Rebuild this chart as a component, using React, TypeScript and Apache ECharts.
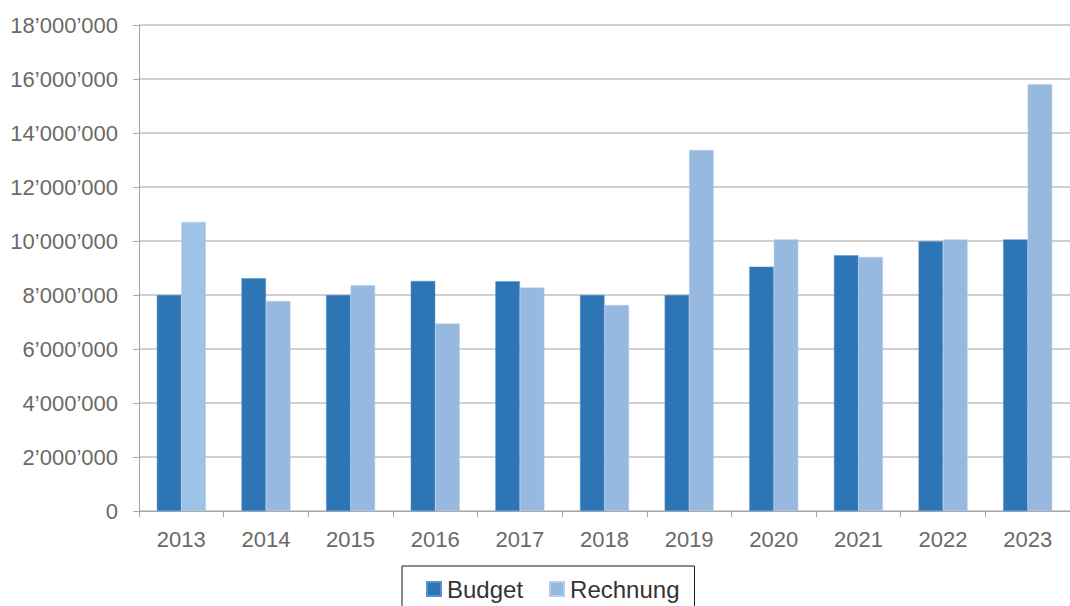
import React, { useEffect, useRef } from "react";
import * as echarts from "echarts";

const years = ["2013", "2014", "2015", "2016", "2017", "2018", "2019", "2020", "2021", "2022", "2023"];
const budget = [8000000, 8620000, 8000000, 8520000, 8510000, 8000000, 8000000, 9050000, 9470000, 9990000, 10060000];
const rechnung = [10700000, 7780000, 8360000, 6940000, 8280000, 7630000, 13370000, 10060000, 9410000, 10060000, 15810000];
const yTicks = [0, 2000000, 4000000, 6000000, 8000000, 10000000, 12000000, 14000000, 16000000, 18000000];

const FONT = "'Liberation Sans', Arial, sans-serif";

function fmt(v: number): string {
  return String(Math.round(v)).replace(/\B(?=(\d{3})+(?!\d))/g, "\u2019");
}

export default function App() {
  const ref = useRef<HTMLDivElement>(null);
  useEffect(() => {
    if (!ref.current) return;
    const chart = echarts.init(ref.current, undefined, { renderer: "svg" });
    chart.setOption({
      animation: false,
      backgroundColor: "#ffffff",
      textStyle: { fontFamily: FONT },
      grid: { left: 139, top: 25, right: -6, bottom: 95, containLabel: false },
      legend: {
        left: 402,
        top: 566,
        padding: [11, 15, 14, 24],
        borderColor: "#1a1a1a",
        borderWidth: 1,
        itemWidth: 14,
        itemHeight: 14,
        itemGap: 26,
        icon: "rect",
        textStyle: { fontSize: 24, color: "#333333", fontFamily: FONT, padding: [0, 0, 0, 1] },
        data: ["Budget", "Rechnung"],
      },
      xAxis: {
        type: "category",
        data: years,
        boundaryGap: true,
        axisLine: { show: true, lineStyle: { color: "#a6a6a6", width: 1 } },
        axisTick: { show: true, length: 6, lineStyle: { color: "#a6a6a6" } },
        axisLabel: { fontSize: 22, color: "#6a6a6a", margin: 17, fontFamily: FONT },
        splitLine: { show: false },
      },
      yAxis: {
        type: "value",
        min: yTicks[0],
        max: yTicks[yTicks.length - 1],
        interval: yTicks[1] - yTicks[0],
        axisLine: { show: true, lineStyle: { color: "#a6a6a6", width: 1 } },
        axisTick: { show: true, length: 6, lineStyle: { color: "#a6a6a6" } },
        axisLabel: { fontSize: 22, color: "#6a6a6a", margin: 21, fontFamily: FONT, formatter: (v: number) => fmt(v) },
        splitLine: { show: true, lineStyle: { color: "#d0d0d0", width: 2 } },
      },
      series: [
        {
          name: "Budget",
          type: "bar",
          data: budget,
          barWidth: 24.5,
          barGap: "0%",
          itemStyle: { color: "#2e75b6", borderColor: "#5b92c8", borderWidth: 0.5 },
        },
        {
          name: "Rechnung",
          type: "bar",
          data: rechnung.map((v, i) => (i === 0 ? { value: v, itemStyle: { color: "#9dc3e6" } } : v)),
          barWidth: 24.5,
          itemStyle: { color: "#97b9df", borderColor: "#b4cdea", borderWidth: 0.5 },
        },
      ],
    });
    return () => chart.dispose();
  }, []);
  return (
    <div
      ref={ref}
      style={{ position: "absolute", left: 0, top: 0, width: 1070, height: 606 }}
    />
  );
}
